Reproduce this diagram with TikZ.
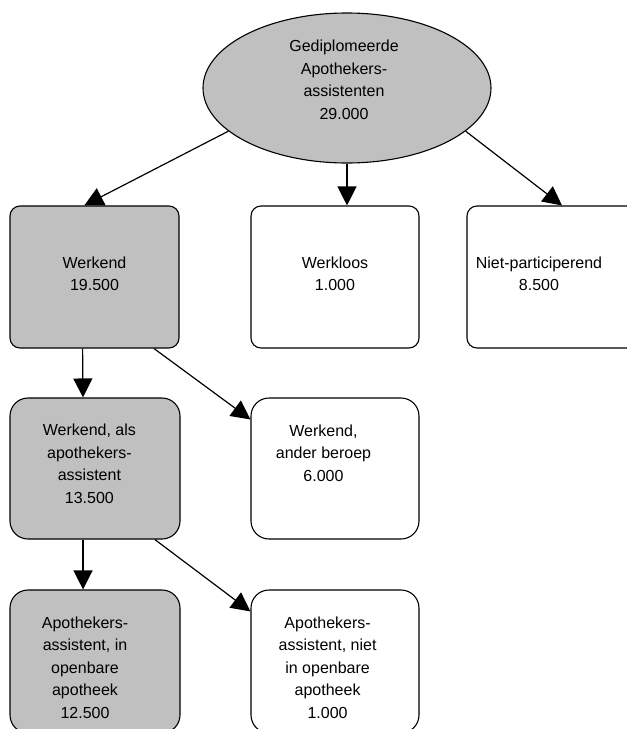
\documentclass[tikz,border=0pt]{standalone}
\usepackage{fontspec}
\setmainfont{Liberation Sans}
\usetikzlibrary{arrows.meta,calc,shapes.geometric}
\definecolor{boxgray}{HTML}{C0C0C0}
\begin{document}
\begin{tikzpicture}[x=1pt,y=-1pt,
  every node/.style={font=\fontsize{16}{22.5}\selectfont},
  box/.style={draw=black, line width=1.1pt, rounded corners=#1, inner sep=0pt},
  box/.default=10pt,
  txt/.style={align=center, inner sep=0pt},
  arr/.style={-{Triangle[length=19pt,width=19pt]}, line width=1.2pt}]
\useasboundingbox (0,0) rectangle (627,729);
\clip (0,0) rectangle (627,729);
% root ellipse
\node[ellipse, draw=black, line width=1.1pt, fill=boxgray, minimum width=288pt, minimum height=150pt, inner sep=0pt] (root) at (347,88) {};
\node[txt] (rootT) at (344,80) {Gediplomeerde\\Apothekers-\\assistenten\\29.000};
% first row
\node[box=10pt, fill=boxgray, minimum width=169pt, minimum height=142pt] (werk) at (94.5,277) {};
\node[txt] (werkT) at (94.5,274) {Werkend\\19.500};
\node[box=10pt, fill=white, minimum width=168pt, minimum height=142pt] (wkl) at (335,277) {};
\node[txt] (wklT) at (335,274) {Werkloos\\1.000};
\node[box=10pt, fill=white, minimum width=190pt, minimum height=142pt] (niet) at (562,277) {};
\node[txt] (nietT) at (539,274) {Niet-participerend\\8.500};
% second row
\node[box=18pt, fill=boxgray, minimum width=170pt, minimum height=141pt] (werkals) at (95,468.5) {};
\node[txt] (werkalsT) at (89.4,464) {Werkend, als\\apothekers-\\assistent\\13.500};
\node[box=18pt, fill=white, minimum width=168pt, minimum height=141pt] (ander) at (335,468.5) {};
\node[txt] (anderT) at (323.5,453) {Werkend,\\ander beroep\\6.000};
% third row
\node[box=18pt, fill=boxgray, minimum width=170pt, minimum height=143pt] (apin) at (95,661.5) {};
\node[txt] (apinT) at (85,667.5) {Apothekers-\\assistent, in\\openbare\\apotheek\\12.500};
\node[box=18pt, fill=white, minimum width=168pt, minimum height=143pt] (apniet) at (335,661.5) {};
\node[txt] (apnietT) at (327.6,667.5) {Apothekers-\\assistent, niet\\in openbare\\apotheek\\1.000};
% connectors
\draw[arr] (root.200.7) -- ($(werk.north west)!0.44!(werk.north east)$);
\draw[arr] (root.south) -- (root.south |- wkl.north);
\draw[arr] (root.-20.7) -- (niet.north);
\draw[arr] ($(werk.south west)!0.43!(werk.south east)$) -- ($(werkals.north west)!0.43!(werkals.north east)$);
\draw[arr] ($(werk.south west)!0.85!(werk.south east)$) -- ($(ander.north west)+(0,22)$);
\draw[arr] ($(werkals.south west)!0.43!(werkals.south east)$) -- ($(apin.north west)!0.43!(apin.north east)$);
\draw[arr] ($(werkals.south west)!0.85!(werkals.south east)$) -- ($(apniet.north west)+(0,22)$);
\end{tikzpicture}
\end{document}
